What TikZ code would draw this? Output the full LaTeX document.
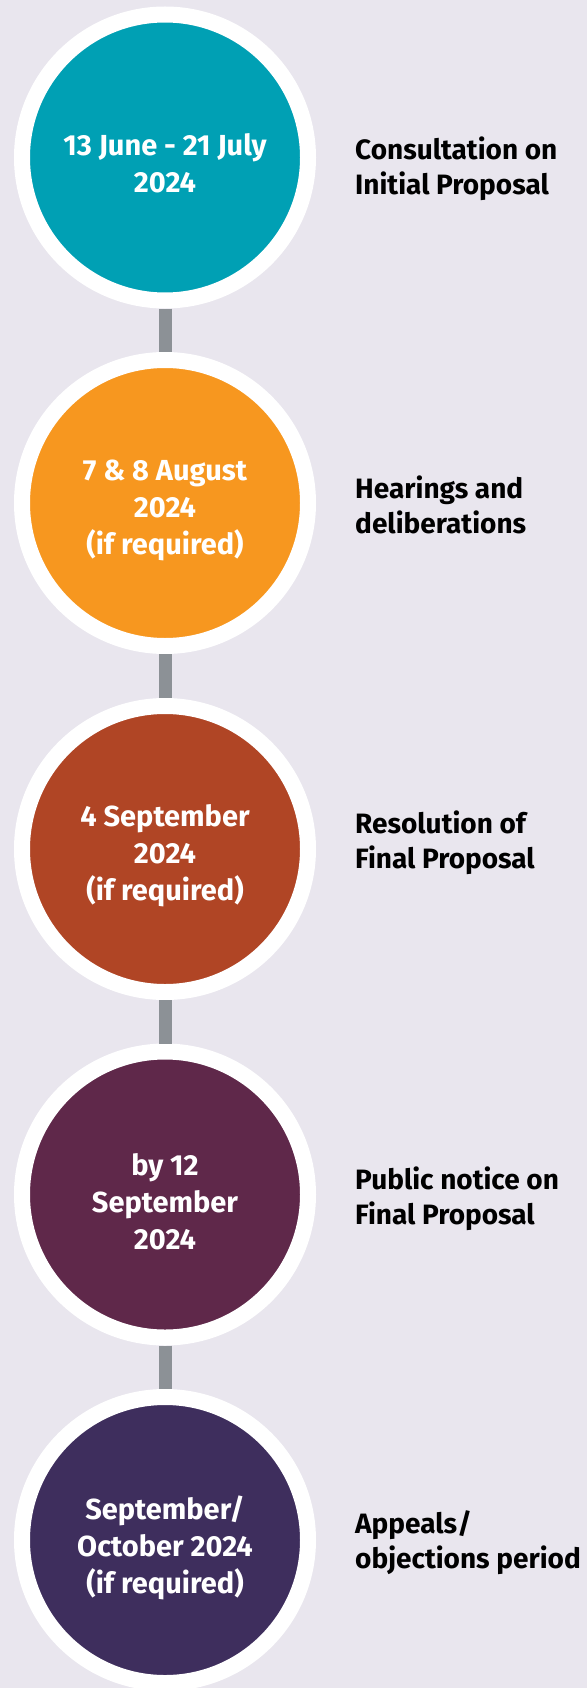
\documentclass[tikz,border=0pt]{standalone}
\usepackage{fontspec}
\setmainfont{Fira Sans}
\usetikzlibrary{positioning}
\definecolor{bg}{HTML}{E9E6EE}
\definecolor{linkgrey}{HTML}{8C9196}
\definecolor{teal}{HTML}{00A0B4}
\definecolor{orange}{HTML}{F7971F}
\definecolor{rust}{HTML}{B04525}
\definecolor{plum}{HTML}{5F284A}
\definecolor{indigo}{HTML}{3E2E5D}
\tikzstyle{date} = [circle, draw=white, line width=16pt, minimum size=286pt, inner sep=0pt]
\tikzstyle{datetext} = [text=white, align=center, inner sep=0pt, font=\bfseries\fontsize{29}{37}\selectfont]
\tikzstyle{stage} = [align=left, inner sep=0pt, font=\bfseries\fontsize{28}{35}\selectfont]
\tikzstyle{link} = [draw=linkgrey, line width=13pt]

\begin{document}
\begin{tikzpicture}[x=1pt, y=1pt]
	\fill[bg](0, 0) rectangle (587, -1688);
	\useasboundingbox (0, 0) rectangle (587, -1688);

	\node[date, fill=teal](consult) at (165, -157.5){};
	\node[date, fill=orange](hearing) at (165, -503){};
	\node[date, fill=rust](resolve) at (165, -849){};
	\node[date, fill=plum](notice) at (165, -1194.5){};
	\node[date, fill=indigo](appeal) at (165, -1540){};

	\node[datetext](consulttext) at ([yshift=-6pt]consult.center){13 June - 21 July\\2024};
	\node[datetext](hearingtext) at ([yshift=-7pt]hearing.center){7 \& 8 August\\2024\\(if required)};
	\node[datetext](resolvetext) at ([yshift=-7pt]resolve.center){4 September\\2024\\(if required)};
	\node[datetext](noticetext) at ([yshift=-7pt]notice.center){by 12\\September\\2024};
	\node[datetext](appealtext) at ([yshift=-8pt]appeal.center){September/\\October 2024\\(if required)};

	\node[stage, right=39pt of consult, yshift=-11pt](consultlabel){Consultation on\\Initial Proposal};
	\node[stage, right=39pt of hearing, yshift=-2pt](hearinglabel){Hearings and\\deliberations};
	\node[stage, right=39pt of resolve, yshift=6pt](resolvelabel){Resolution of\\Final Proposal};
	\node[stage, right=39pt of notice, yshift=-4pt](noticelabel){Public notice on\\Final Proposal};
	\node[stage, right=39pt of appeal, yshift=-3pt](appeallabel){Appeals/\\objections period};

	\draw[link](consult) -- (hearing);
	\draw[link](hearing) -- (resolve);
	\draw[link](resolve) -- (notice);
	\draw[link](notice) -- (appeal);
\end{tikzpicture}
\end{document}
